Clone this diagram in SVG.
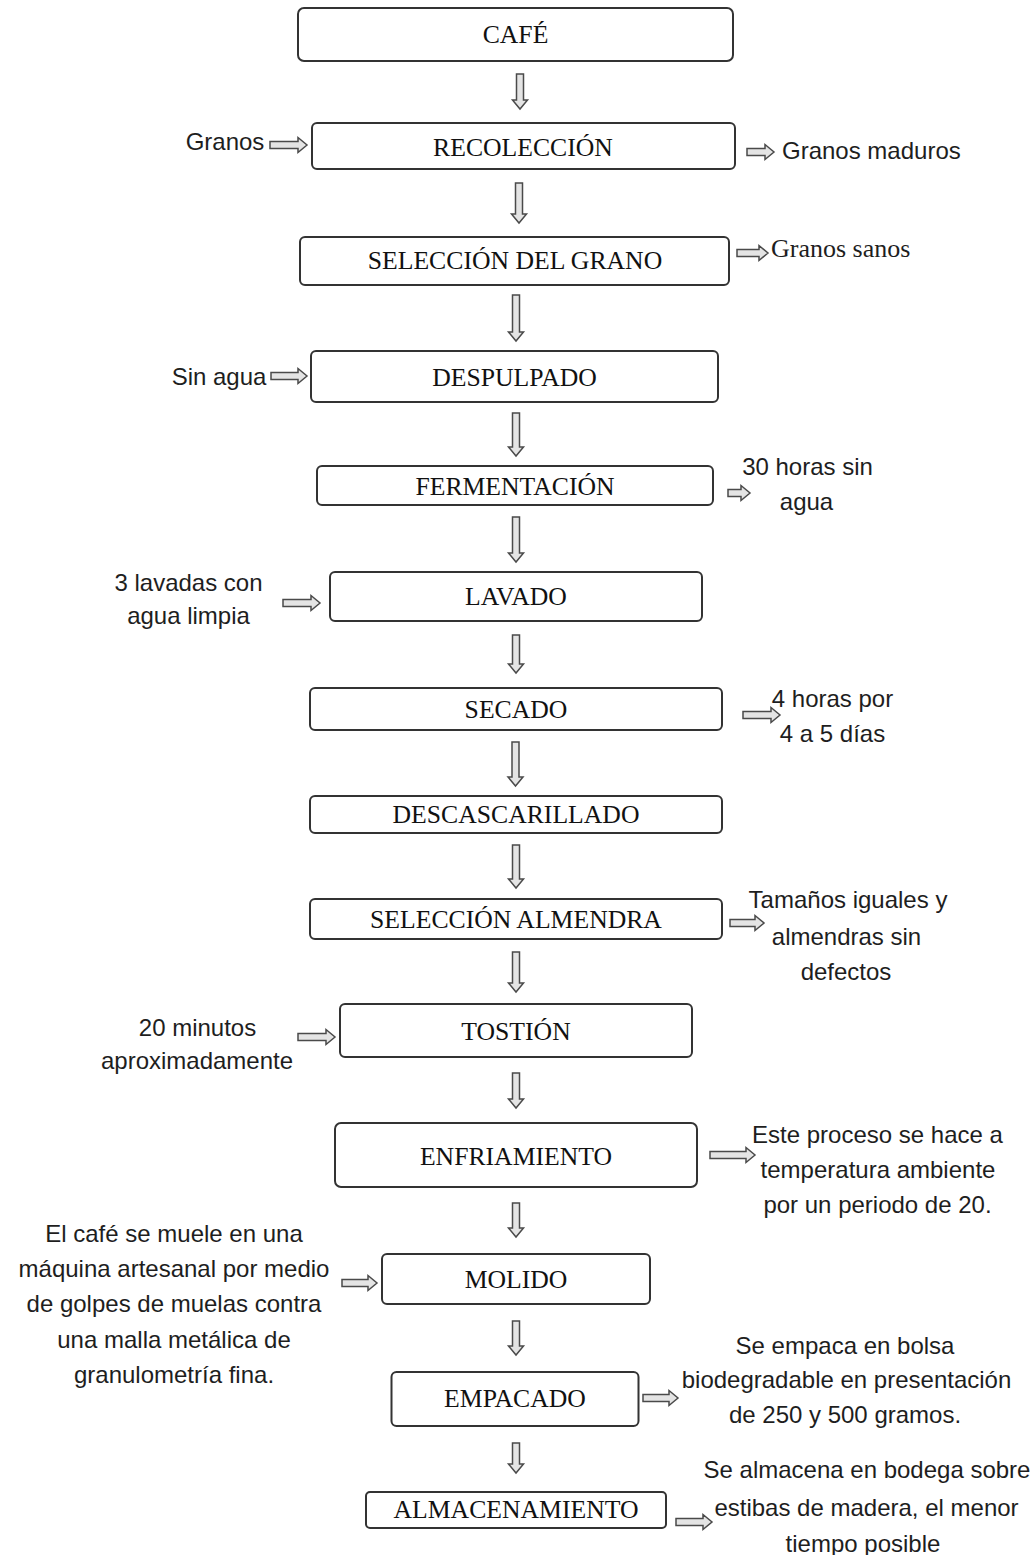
<svg xmlns="http://www.w3.org/2000/svg" width="1035" height="1555" viewBox="0 0 1035 1555">
<style>
.box{fill:#fff;stroke:#333;stroke-width:2}
.bt{font-family:"Liberation Serif","Times New Roman",serif;font-size:25.7px;fill:#111;text-anchor:middle}
.st{font-family:"Liberation Sans",Arial,sans-serif;font-size:24px;fill:#1e1e1e}
.mid{text-anchor:middle}
.arr{fill:#e4e4e4;stroke:#4a4a4a;stroke-width:1.5;stroke-linejoin:miter}
</style>
<rect width="1035" height="1555" fill="#fff"/>
<g id="connectors">
<polygon class="arr" points="516.5,74 523.5,74 523.5,100 527.5,100 520,109 512.5,100 516.5,100"/>
<polygon class="arr" points="515.5,183 522.5,183 522.5,214 526.5,214 519,223 511.5,214 515.5,214"/>
<polygon class="arr" points="512.5,295 519.5,295 519.5,332 523.5,332 516,341 508.5,332 512.5,332"/>
<polygon class="arr" points="512.5,413 519.5,413 519.5,447 523.5,447 516,456 508.5,447 512.5,447"/>
<polygon class="arr" points="512.5,517 519.5,517 519.5,553 523.5,553 516,562 508.5,553 512.5,553"/>
<polygon class="arr" points="512.5,635 519.5,635 519.5,664 523.5,664 516,673 508.5,664 512.5,664"/>
<polygon class="arr" points="512,742 519,742 519,777 523,777 515.5,786 508,777 512,777"/>
<polygon class="arr" points="512.5,845 519.5,845 519.5,879 523.5,879 516,888 508.5,879 512.5,879"/>
<polygon class="arr" points="512.5,952 519.5,952 519.5,983 523.5,983 516,992 508.5,983 512.5,983"/>
<polygon class="arr" points="512.5,1073 519.5,1073 519.5,1099 523.5,1099 516,1108 508.5,1099 512.5,1099"/>
<polygon class="arr" points="512.5,1203 519.5,1203 519.5,1228 523.5,1228 516,1237 508.5,1228 512.5,1228"/>
<polygon class="arr" points="512.5,1321 519.5,1321 519.5,1346 523.5,1346 516,1355 508.5,1346 512.5,1346"/>
<polygon class="arr" points="512.5,1443 519.5,1443 519.5,1464 523.5,1464 516,1473 508.5,1464 512.5,1464"/>
<polygon class="arr" points="270,141.5 298,141.5 298,137.5 307,145 298,152.5 298,148.5 270,148.5"/>
<polygon class="arr" points="747,148.5 765,148.5 765,144.5 774,152 765,159.5 765,155.5 747,155.5"/>
<polygon class="arr" points="737,249.5 759,249.5 759,245.5 768,253 759,260.5 759,256.5 737,256.5"/>
<polygon class="arr" points="271,372.5 298,372.5 298,368.5 307,376 298,383.5 298,379.5 271,379.5"/>
<polygon class="arr" points="728,489.5 741,489.5 741,485.5 750,493 741,500.5 741,496.5 728,496.5"/>
<polygon class="arr" points="283,599.5 311,599.5 311,595.5 320,603 311,610.5 311,606.5 283,606.5"/>
<polygon class="arr" points="743,711.5 771,711.5 771,707.5 780,715 771,722.5 771,718.5 743,718.5"/>
<polygon class="arr" points="730,919.5 755,919.5 755,915.5 764,923 755,930.5 755,926.5 730,926.5"/>
<polygon class="arr" points="298,1033.5 326,1033.5 326,1029.5 335,1037 326,1044.5 326,1040.5 298,1040.5"/>
<polygon class="arr" points="710,1151.5 746,1151.5 746,1147.5 755,1155 746,1162.5 746,1158.5 710,1158.5"/>
<polygon class="arr" points="342,1279.5 368,1279.5 368,1275.5 377,1283 368,1290.5 368,1286.5 342,1286.5"/>
<polygon class="arr" points="643,1394.5 669,1394.5 669,1390.5 678,1398 669,1405.5 669,1401.5 643,1401.5"/>
<polygon class="arr" points="676,1518.5 703,1518.5 703,1514.5 712,1522 703,1529.5 703,1525.5 676,1525.5"/>
</g>
<g id="cafe"><rect class="box" x="298" y="8" width="435" height="53" rx="6"/><text class="bt" x="515.5" y="43">CAFÉ</text></g>
<g id="recoleccion"><rect class="box" x="312" y="123" width="423" height="46" rx="5"/><text class="bt" x="523" y="156">RECOLECCIÓN</text></g>
<g id="seleccion-grano"><rect class="box" x="300" y="237" width="429" height="48" rx="5"/><text class="bt" x="515" y="269">SELECCIÓN DEL GRANO</text></g>
<g id="despulpado"><rect class="box" x="311" y="351" width="407" height="51" rx="5"/><text class="bt" x="514.5" y="386">DESPULPADO</text></g>
<g id="fermentacion"><rect class="box" x="317" y="466" width="396" height="39" rx="5"/><text class="bt" x="515" y="495">FERMENTACIÓN</text></g>
<g id="lavado"><rect class="box" x="330" y="572" width="372" height="49" rx="5"/><text class="bt" x="516" y="605">LAVADO</text></g>
<g id="secado"><rect class="box" x="310" y="688" width="412" height="42" rx="5"/><text class="bt" x="516" y="718">SECADO</text></g>
<g id="descascarillado"><rect class="box" x="310" y="796" width="412" height="37" rx="5"/><text class="bt" x="516" y="822.5">DESCASCARILLADO</text></g>
<g id="seleccion-almendra"><rect class="box" x="310" y="899" width="412" height="40" rx="5"/><text class="bt" x="516" y="927.5">SELECCIÓN ALMENDRA</text></g>
<g id="tostion"><rect class="box" x="340" y="1004" width="352" height="53" rx="5"/><text class="bt" x="516" y="1040">TOSTIÓN</text></g>
<g id="enfriamiento"><rect class="box" x="335" y="1123" width="362" height="64" rx="6"/><text class="bt" x="516" y="1165">ENFRIAMIENTO</text></g>
<g id="molido"><rect class="box" x="382" y="1254" width="268" height="50" rx="5"/><text class="bt" x="516" y="1288">MOLIDO</text></g>
<g id="empacado"><rect class="box" x="391.5" y="1372" width="247" height="54" rx="5"/><text class="bt" x="515" y="1407">EMPACADO</text></g>
<g id="almacenamiento"><rect class="box" x="366" y="1492" width="300" height="36" rx="4"/><text class="bt" x="516" y="1518">ALMACENAMIENTO</text></g>
<g id="labels">
<text class="st mid" x="225" y="150">Granos</text>
<text class="st" x="782" y="159">Granos maduros</text>
<text x="771" y="257" style="font-family:'Liberation Serif','Times New Roman',serif;font-size:26px;fill:#1e1e1e">Granos sanos</text>
<text class="st mid" x="219" y="385">Sin agua</text>
<text class="st mid" x="807.5" y="475">30 horas sin</text>
<text class="st mid" x="806.5" y="510">agua</text>
<text class="st mid" x="188.5" y="591">3 lavadas con</text>
<text class="st mid" x="188.5" y="624">agua limpia</text>
<text class="st mid" x="832.5" y="707">4 horas por</text>
<text class="st mid" x="832.5" y="742">4 a 5 días</text>
<text class="st mid" x="848" y="908">Tamaños iguales y</text>
<text class="st mid" x="846.5" y="945">almendras sin</text>
<text class="st mid" x="846" y="980">defectos</text>
<text class="st mid" x="197.5" y="1036">20 minutos</text>
<text class="st mid" x="197" y="1069">aproximadamente</text>
<text class="st mid" x="877.5" y="1143">Este proceso se hace a</text>
<text class="st mid" x="878" y="1178">temperatura ambiente</text>
<text class="st mid" x="877.5" y="1213">por un periodo de 20.</text>
<text class="st mid" x="174" y="1242">El café se muele en una</text>
<text class="st mid" x="174" y="1277">máquina artesanal por medio</text>
<text class="st mid" x="174" y="1312">de golpes de muelas contra</text>
<text class="st mid" x="174" y="1348">una malla metálica de</text>
<text class="st mid" x="174" y="1383">granulometría fina.</text>
<text class="st mid" x="845" y="1354">Se empaca en bolsa</text>
<text class="st mid" x="846.5" y="1388">biodegradable en presentación</text>
<text class="st mid" x="845" y="1423">de 250 y 500 gramos.</text>
<text class="st mid" x="867" y="1478">Se almacena en bodega sobre</text>
<text class="st mid" x="866.5" y="1516">estibas de madera, el menor</text>
<text class="st mid" x="863" y="1552">tiempo posible</text>
</g>
</svg>
